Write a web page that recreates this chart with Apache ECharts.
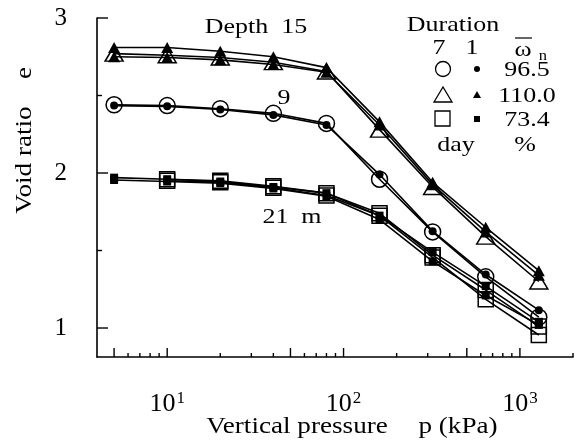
<!doctype html>
<html>
<head>
<meta charset="utf-8">
<title>Void ratio vs vertical pressure</title>
<script src="https://cdn.jsdelivr.net/npm/echarts@6/dist/echarts.min.js"></script>
<style>
  html, body { margin: 0; padding: 0; background: #fff; }
  #chart { width: 580px; height: 444px; }
</style>
</head>
<body>
<div id="chart"></div>
<script>
// pressures (kPa) of the load steps
var pressure = [5, 10, 20, 40, 80, 160, 320, 640, 1280];

// depth 15 m, triangles
var tri1Upper = [2.81, 2.81, 2.785, 2.75, 2.68, 2.33, 1.94, 1.65, 1.37];
var tri7 = [2.77, 2.76, 2.745, 2.715, 2.655, 2.28, 1.91, 1.59, 1.30];
var tri1Lower = [2.75, 2.745, 2.73, 2.70, 2.65, 2.31, 1.925, 1.62, 1.34];

// depth 9 m, circles
var circ7 = [2.44, 2.435, 2.415, 2.385, 2.32, 1.96, 1.62, 1.33, 1.07];
var circ1 = [2.435, 2.43, 2.41, 2.375, 2.31, 1.99, 1.625, 1.345, 1.115];

// depth 21 m, squares
var sq7a = [null, 1.96, 1.95, 1.915, 1.87, 1.74, 1.47, 1.245, 1.01];
var sq7b = [null, 1.95, 1.94, 1.905, 1.855, 1.725, 1.455, 1.185, 0.955];
var sq1a = [1.97, 1.96, 1.945, 1.91, 1.87, 1.725, 1.49, 1.27, 1.04];
var sq1b = [1.955, 1.945, 1.935, 1.90, 1.85, 1.70, 1.43, 1.21, 1.02];

// axes
var xMin = 4, xMax = 2000;
var yMin = 0.813, yMax = 3;
var xTicks = [5, 6, 7, 8, 9, 10, 20, 30, 40, 50, 60, 70, 80, 90, 100, 200, 300, 400, 500, 600, 700, 800, 900, 1000, 2000];
var xLongTicks = [5, 10, 50, 100, 500, 1000];
var xLabels = [10, 100, 1000];
var yTicks = [1, 1.5, 2, 2.5, 3];
var yLongTicks = [1, 2, 3];
var yLabels = [1, 2, 3];

var FONT = 'Liberation Serif';
var SX = 1.18; // text in the figure is a bit wider than Times

function curve(name, vals, symbol, size, open) {
    var data = [];
    pressure.forEach(function (p, i) {
        if (vals[i] != null) data.push([p, vals[i]]);
    });
    return {
        type: 'line',
        name: name,
        data: data,
        symbol: symbol,
        symbolSize: size,
        showSymbol: true,
        lineStyle: { color: '#000', width: 1.6 },
        itemStyle: open
            ? { color: 'rgba(255,255,255,0)', borderColor: '#000', borderWidth: 1.5 }
            : { color: '#000', borderWidth: 0 },
        emphasis: { disabled: true },
        z: open ? 3 : 4
    };
}

function txt(s, x, y, size, extra) {
    var el = {
        type: 'text', x: x, y: y, scaleX: SX,
        style: { text: s, fontFamily: FONT, fontSize: size, fill: '#000', align: 'center', verticalAlign: 'middle' }
    };
    if (extra) for (var k in extra) el[k] = extra[k];
    return el;
}

var chart = echarts.init(document.getElementById('chart'));

var option = {
    animation: false,
    backgroundColor: '#fff',
    textStyle: { fontFamily: FONT },
    grid: { left: 97, right: 7, top: 18, bottom: 87 },
    xAxis: {
        type: 'log', logBase: 10, min: xMin, max: xMax,
        axisLine: { lineStyle: { color: '#000', width: 1.6 } },
        axisTick: { show: false },
        minorTick: { show: false },
        splitLine: { show: false },
        axisLabel: {
            customValues: xLabels,
            margin: 33,
            color: '#000',
            formatter: function (v) {
                return '{b|10}{s|' + Math.round(Math.log10(v)) + '}';
            },
            rich: {
                b: { fontFamily: FONT, fontSize: 26, color: '#000' },
                s: { fontFamily: FONT, fontSize: 17, color: '#000', padding: [0, 0, 12, 1] }
            }
        }
    },
    yAxis: {
        type: 'value', min: yMin, max: yMax,
        axisLine: { lineStyle: { color: '#000', width: 1.6 } },
        axisTick: { show: false },
        splitLine: { show: false },
        axisLabel: {
            customValues: yLabels,
            margin: 30,
            color: '#000',
            fontFamily: FONT,
            fontSize: 25
        }
    },
    series: [
        curve('tri1u', tri1Upper, 'triangle', [12, 11], false),
        curve('tri7', tri7, 'triangle', [18, 15], true),
        curve('tri1l', tri1Lower, 'triangle', [12, 11], false),
        curve('circ7', circ7, 'circle', 16, true),
        curve('circ1', circ1, 'circle', 8, false),
        curve('sq7a', sq7a, 'rect', 15, true),
        curve('sq7b', sq7b, 'rect', 15, true),
        curve('sq1a', sq1a, 'rect', 8, false),
        curve('sq1b', sq1b, 'rect', 8, false),
        {
            type: 'custom', silent: true, clip: false, z: 6,
            data: xTicks.map(function (v) { return [v, yMin]; }),
            renderItem: function (params, api) {
                var v = api.value(0);
                var p = api.coord([v, api.value(1)]);
                var len = xLongTicks.indexOf(v) >= 0 ? 9 : 4;
                return { type: 'line', shape: { x1: p[0], y1: p[1], x2: p[0], y2: p[1] - len },
                    style: { stroke: '#000', lineWidth: 1.4 } };
            }
        },
        {
            type: 'custom', silent: true, clip: false, z: 6,
            data: yTicks.map(function (v) { return [xMin, v]; }),
            renderItem: function (params, api) {
                var v = api.value(1);
                var p = api.coord([api.value(0), v]);
                var len = yLongTicks.indexOf(v) >= 0 ? 11 : 5;
                return { type: 'line', shape: { x1: p[0], y1: p[1], x2: p[0] + len, y2: p[1] },
                    style: { stroke: '#000', lineWidth: 1.4 } };
            }
        }
    ],
    graphic: [
        // axis titles
        txt('Void ratio', 25, 160, 23, { rotation: Math.PI / 2 }),
        txt('e', 25, 73, 23, { rotation: Math.PI / 2 }),
        txt('Vertical pressure', 297, 427, 23),
        txt('p (kPa)', 458, 427, 23),
        // depth notes
        txt('Depth  15', 256, 27, 22),
        txt('9', 284, 98, 22),
        txt('21  m', 292, 217, 22),
        // key
        txt('Duration', 453, 25, 22),
        txt('7', 439, 48, 22),
        txt('1', 472, 48, 22),
        txt('\u03c9', 523, 50, 22),
        txt('n', 543, 56, 14),
        { type: 'line', shape: { x1: 515, y1: 38, x2: 532, y2: 38 }, style: { stroke: '#000', lineWidth: 1.2 } },
        { type: 'circle', shape: { cx: 443, cy: 69, r: 7.5 }, style: { fill: 'none', stroke: '#000', lineWidth: 1.3 } },
        { type: 'circle', shape: { cx: 477, cy: 69, r: 3 }, style: { fill: '#000' } },
        txt('96.5', 527, 70, 22),
        { type: 'polygon', shape: { points: [[443, 87], [434, 102], [452, 102]] }, style: { fill: 'none', stroke: '#000', lineWidth: 1.3 } },
        { type: 'polygon', shape: { points: [[477, 91], [473, 98], [481, 98]] }, style: { fill: '#000' } },
        txt('110.0', 527, 96, 22),
        { type: 'rect', shape: { x: 435, y: 111, width: 15, height: 15 }, style: { fill: 'none', stroke: '#000', lineWidth: 1.3 } },
        { type: 'rect', shape: { x: 474, y: 116, width: 6, height: 6 }, style: { fill: '#000' } },
        txt('73.4', 527, 120, 22),
        txt('day', 456, 145, 22),
        txt('%', 525, 145, 22)
    ]
};

chart.setOption(option);
</script>
</body>
</html>
